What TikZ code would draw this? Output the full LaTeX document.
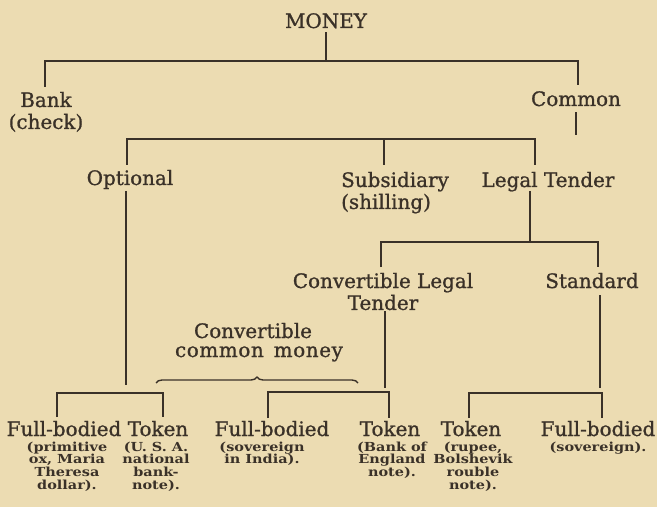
\documentclass[tikz,border=0pt]{standalone}
\usepackage{fontspec}
\setmainfont{DejaVu Serif}[FakeBold=1]
\newfontfamily\smallfam{DejaVu Serif Bold}
\usetikzlibrary{decorations.pathreplacing}
\definecolor{bg}{HTML}{ECDCB2}
\definecolor{ink}{HTML}{3A3128}
\newcommand\mainsz{\fontsize{20}{22}\selectfont}
\newcommand\smsz{\smallfam\fontsize{12.5}{11.6}\selectfont}
\newcommand\mlines[1]{\begin{tabular}[t]{@{}c@{}}#1\end{tabular}}
\newcommand\smlines[1]{\scalebox{1.16}[1]{\smsz\begin{tabular}[t]{@{}c@{}}#1\end{tabular}}}
\tikzset{
  lbl/.style={font=\mainsz, text=ink, inner sep=0pt, anchor=base},
  sml/.style={text=ink, inner sep=0pt, anchor=base},
  ln/.style={draw=ink, line width=1.3bp},
  bracestyle/.style={draw=ink, line width=1.4bp, decorate, decoration={brace, amplitude=6bp}}
}
\begin{document}
\begin{tikzpicture}[x=1bp,y=-1bp]
\fill[bg] (0,0) rectangle (657,507);
\useasboundingbox (0,0) rectangle (657,507);
% labels
\node[lbl] (money) at (326,28) {MONEY};
\node[lbl] (bank) at (46,107) {\mlines{Bank\\(check)}};
\node[lbl] (common) at (576,106) {Common};
\node[lbl] (optional) at (130,185) {Optional};
\node[lbl,anchor=base west] (subsid) at (341,187) {\begin{tabular}[t]{@{}l@{}}Subsidiary\\(shilling)\end{tabular}};
\node[lbl] (legal) at (548,187) {Legal Tender};
\node[lbl] (convlt) at (383,288) {\mlines{Convertible Legal\\Tender}};
\node[lbl] (standard) at (592,288) {Standard};
\node[lbl] (convcm) at (253,338) {Convertible};
\node[lbl] (convcm2) at (259,357) {\addfontfeatures{LetterSpace=3}common\hspace{3bp} money};
% bottom row
\node[lbl] (fb1) at (64,436) {Full-bodied};
\node[sml] (fb1n) at (67,451) {\smlines{(primitive\\ox, Maria\\Theresa\\dollar).}};
\node[lbl] (tk1) at (158,436) {Token};
\node[sml] (tk1n) at (156,451) {\smlines{(U. S. A.\\national\\bank-\\note).}};
\node[lbl] (fb2) at (272,436) {Full-bodied};
\node[sml] (fb2n) at (262,451) {\smlines{(sovereign\\in India).}};
\node[lbl] (tk2) at (390,436) {Token};
\node[sml] (tk2n) at (392,451) {\smlines{(Bank of\\England\\note).}};
\node[lbl] (tk3) at (471,436) {Token};
\node[sml] (tk3n) at (473,451) {\smlines{(rupee,\\Bolshevik\\rouble\\note).}};
\node[lbl] (fb3) at (598,436) {Full-bodied};
\node[sml] (fb3n) at (598,451) {\smlines{(sovereign).}};
% coordinates
\coordinate (mA) at (326,61);
\coordinate (bankTop) at (45,87);
\coordinate (commonTop) at (578,85);
\coordinate (commonEnd) at (576,135);
\coordinate (optTop) at (127,165);
\coordinate (subTop) at (384,165);
\coordinate (legTop) at (535,165);
\coordinate (optEnd) at (126,385);
\coordinate (legBar) at (530,242);
\coordinate (cltTop) at (381,267);
\coordinate (stdTop) at (598,267);
\coordinate (cltEnd) at (385,388);
\coordinate (stdEnd) at (600,388);
\coordinate (g1L) at (57,417);
\coordinate (g1R) at (163,417);
\coordinate (g2L) at (268,418);
\coordinate (g2R) at (389,418);
\coordinate (g3L) at (469,418);
\coordinate (g3R) at (602,418);
% connectors
\draw[ln] ([yshift=-4bp]money.south) -- (mA);
\draw[ln] (bankTop) |- (commonTop |- mA) -- (commonTop);
\draw[ln] ([yshift=-6bp]common.south) -- (commonEnd);
\draw[ln] (optTop) |- (legTop |- 0,139) -- (legTop);
\draw[ln] (subTop) -- (subTop |- 0,139);
\draw[ln] (126,191) -- (optEnd);
\draw[ln] (530,191) -- (legBar);
\draw[ln] (cltTop) |- (stdTop |- legBar) -- (stdTop);
\draw[ln] (385,311) -- (cltEnd);
\draw[ln] (600,295) -- (stdEnd);
\draw[ln] (g1L) |- (g1R |- 0,393) -- (g1R);
\draw[ln] (g2L) |- (g2R |- 0,392) -- (g2R);
\draw[ln] (g3L) |- (g3R |- 0,393) -- (g3R);
\draw[bracestyle] (156,383) -- (358,383);
\end{tikzpicture}
\end{document}
